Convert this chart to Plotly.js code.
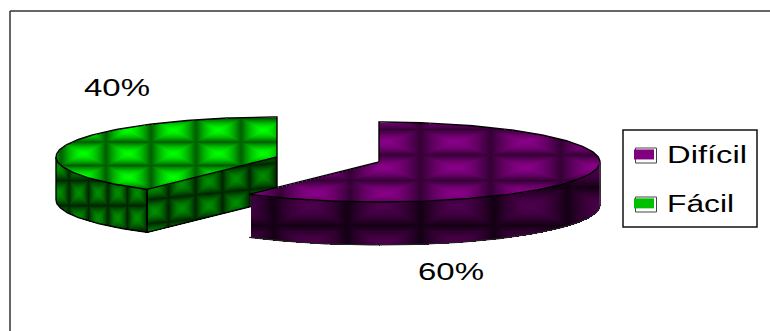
<!DOCTYPE html>
<html>
<head>
<meta charset="utf-8">
<script src="https://cdn.plot.ly/plotly-3.0.1.min.js"></script>
<style>html,body{margin:0;padding:0;background:#fff}#chart{width:770px;height:331px}</style>
</head>
<body>
<div id="chart"></div>
<script>
// Answer shares, clockwise from twelve o'clock starting with the first category
const categories = ['Difícil', 'Fácil'];
const shares = [60, 40];
const legendColors = ['#800080', '#00c000'];

// Drawing scale: one axis unit is one page pixel
const RX = 221, RY = 40, DEPTH = 43;

const rad = d => d * Math.PI / 180;
const pointAt = (s, deg) => [s.cx + RX * Math.sin(rad(deg)), s.cy - RY * Math.cos(rad(deg))];

function inSector(s, x, y) {
  const dx = (x - s.cx) / RX, dy = (y - s.cy) / RY;
  if (dx * dx + dy * dy > 1) return false;
  let a = Math.atan2(dx, -dy) * 180 / Math.PI;
  if (a < 0) a += 360;
  return a >= s.start && a <= s.end;
}

// Soft pillow tile used as the fill texture of every face
function pillow(x, y, tex) {
  const fx = (x - tex.ox) / tex.w, fy = (y - tex.oy - (tex.slope || 0) * x) / tex.h;
  const u = Math.abs(fx - Math.floor(fx) - 0.5) * 2;
  const v = Math.abs(fy - Math.floor(fy) - 0.5) * 2;
  const t = 1 - Math.pow(Math.max(u, v), 1.6);
  return tex.lo + (tex.hi - tex.lo) * t;
}

function faceGrids(s) {
  const x0 = Math.floor(s.cx - RX) - 1, x1 = Math.ceil(s.cx + RX) + 1;
  const y0 = Math.floor(s.cy - RY) - 1, y1 = Math.ceil(s.cy + RY + DEPTH) + 1;
  const z = [];
  for (let y = y0; y <= y1; y++) {
    const row = [];
    for (let x = x0; x <= x1; x++) {
      let v = null;
      if (inSector(s, x, y)) {
        v = pillow(x, y, s.top);
      } else {
        for (let d = 1; d <= DEPTH; d++) {
          if (inSector(s, x, y - d)) {
            const apex = pointAt(s, s.start)[0];
            v = pillow(x, y, s.cutWall && x > apex ? s.cutWall : s.wall);
            break;
          }
        }
      }
      row.push(v);
    }
    z.push(row);
  }
  return {z, x0, y0};
}

function arc(s, from, to, shift) {
  const xs = [], ys = [];
  const n = Math.ceil(Math.abs(to - from));
  for (let i = 0; i <= n; i++) {
    const p = pointAt(s, from + (to - from) * i / n);
    xs.push(p[0]); ys.push(p[1] + shift);
  }
  return {xs, ys};
}

const lineTrace = (xs, ys, xa, ya, color, width) => ({
  type: 'scatter', mode: 'lines', x: xs, y: ys, xaxis: xa, yaxis: ya,
  line: {color, width}, hoverinfo: 'skip', showlegend: false
});

const toDeg = v => v * 3.6;

// Purple slice runs from 12 o'clock, green slice closes the circle
const hard = {
  cx: 379, cy: 162, start: 0, end: toDeg(shares[0]),
  scale: [[0, 'rgb(0,0,0)'], [1, 'rgb(136,0,136)']],
  top: {ox: 350, oy: 129, w: 70, h: 25.5, lo: 0.38, hi: 1},
  wall: {ox: 273, oy: 187, w: 73.5, h: 38, lo: 0.14, hi: 0.56}
};
const easy = {
  cx: 277, cy: 157, start: toDeg(shares[0]), end: 360,
  scale: [[0, 'rgb(0,0,0)'], [1, 'rgb(0,255,0)']],
  top: {ox: 60.5, oy: 118, w: 45, h: 23.5, lo: 0.36, hi: 1},
  wall: {ox: 49, oy: 155, w: 19.5, h: 25, lo: 0.14, hi: 0.55},
  cutWall: {ox: 141, oy: 214, w: 27, h: 24, slope: -0.1, lo: 0.14, hi: 0.55}
};

function sliceTraces(s, xa, ya) {
  const g = faceGrids(s);
  const traces = [{
    type: 'heatmap', z: g.z, x0: g.x0, dx: 1, y0: g.y0, dy: 1, xaxis: xa, yaxis: ya,
    colorscale: s.scale, zmin: 0, zmax: 1, showscale: false, hoverinfo: 'skip', showlegend: false
  }];
  const rim = arc(s, s.start, s.end, 0);
  const c = [s.cx, s.cy];
  traces.push(lineTrace([c[0], ...rim.xs, c[0]], [c[1], ...rim.ys, c[1]], xa, ya, '#000', 1.4));
  return traces;
}

const hardTraces = sliceTraces(hard, 'x2', 'y2');
const easyTraces = sliceTraces(easy, 'x', 'y');

// Side-wall outlines
const hardBase = arc(hard, 90, hard.end, DEPTH);
hardTraces.push(lineTrace(hardBase.xs, hardBase.ys, 'x2', 'y2', '#222', 1.2));
hardTraces.push(lineTrace([hard.cx + RX, hard.cx + RX], [hard.cy, hard.cy + DEPTH], 'x2', 'y2', '#555', 1));

const ep = pointAt(easy, easy.start);
const easyBase = arc(easy, 270, easy.start, DEPTH);
easyTraces.push(lineTrace(easyBase.xs, easyBase.ys, 'x', 'y', '#000', 1.4));
easyTraces.push(lineTrace([easy.cx - RX, easy.cx - RX], [easy.cy, easy.cy + DEPTH], 'x', 'y', '#000', 1.4));
easyTraces.push(lineTrace([ep[0], ep[0]], [ep[1], ep[1] + DEPTH], 'x', 'y', '#000', 1.6));
easyTraces.push(lineTrace([ep[0], easy.cx, easy.cx], [ep[1] + DEPTH, easy.cy + DEPTH, easy.cy], 'x', 'y', '#000', 1.4));

// Legend entries
const legendTraces = categories.map((name, i) => ({
  type: 'scatter', mode: 'lines', x: [null], y: [null], name,
  legendgroup: name, line: {color: legendColors[i], width: 14}, hoverinfo: 'skip'
}));

const axis = r => ({range: r, visible: false, fixedrange: true});
const rule = (x0, y0, x1, y1) => ({type: 'line', xref: 'x', yref: 'y', x0, y0, x1, y1, line: {color: '#333', width: 1.5}});
const swatchEdge = y => ({type: 'rect', xref: 'x', yref: 'y', x0: 635.5, x1: 656.5, y0: y, y1: y + 15, line: {color: '#444', width: 1}, fillcolor: 'rgba(0,0,0,0)'});
const layout = {
  width: 770, height: 331,
  margin: {l: 0, r: 0, t: 0, b: 0},
  paper_bgcolor: '#fff', plot_bgcolor: '#fff',
  xaxis: axis([0, 770]), yaxis: axis([331, 0]),
  xaxis2: Object.assign(axis([0, 770]), {overlaying: 'x'}),
  yaxis2: Object.assign(axis([331, 0]), {overlaying: 'y'}),
  showlegend: true,
  legend: {
    x: 627 / 770, y: 1 - 133 / 331, xanchor: 'left', yanchor: 'top',
    bgcolor: 'rgba(0,0,0,0)', borderwidth: 0,
    font: {family: 'Liberation Sans, Arial, sans-serif', size: 23, color: '#000'},
    tracegroupgap: 16, itemclick: false, itemdoubleclick: false
  },
  shapes: [
    rule(10, 11, 770, 11),
    rule(10, 11, 10, 331),
    {type: 'rect', xref: 'x', yref: 'y', x0: 623, x1: 757, y0: 130, y1: 227, line: {color: '#111', width: 1.5}, fillcolor: '#fff'},
    swatchEdge(148),
    swatchEdge(197)
  ],
  annotations: [
    {x: 451, y: 272, text: shares[0] + '%'},
    {x: 117, y: 88, text: shares[1] + '%'}
  ].map(a => Object.assign(a, {
    xref: 'x', yref: 'y', showarrow: false, xanchor: 'center', yanchor: 'middle',
    font: {family: 'Liberation Sans, Arial, sans-serif', size: 23, color: '#000'}
  }))
};

const data = [...easyTraces, ...hardTraces, ...legendTraces];
Plotly.newPlot('chart', data, layout, {displayModeBar: false, responsive: false}).then(gd => {
  // The labels are set in a wide, stretched cut of the typeface
  gd.querySelectorAll('.annotation-text').forEach(t => {
    t.setAttribute('textLength', 66);
    t.setAttribute('lengthAdjust', 'spacingAndGlyphs');
  });
  const widths = {'Difícil': 80, 'Fácil': 67};
  gd.querySelectorAll('.legendtext').forEach(t => {
    t.setAttribute('textLength', widths[t.textContent]);
    t.setAttribute('lengthAdjust', 'spacingAndGlyphs');
  });
  // Legend keys are short blocks rather than full-length line samples
  gd.querySelectorAll('.legendlines path').forEach(p => p.setAttribute('d', 'M7,0h20'));
  // Stretched entries run past the measured width of the legend's clip area
  gd.querySelectorAll('.legend .scrollbox').forEach(b => b.removeAttribute('clip-path'));
});
</script>
</body>
</html>
